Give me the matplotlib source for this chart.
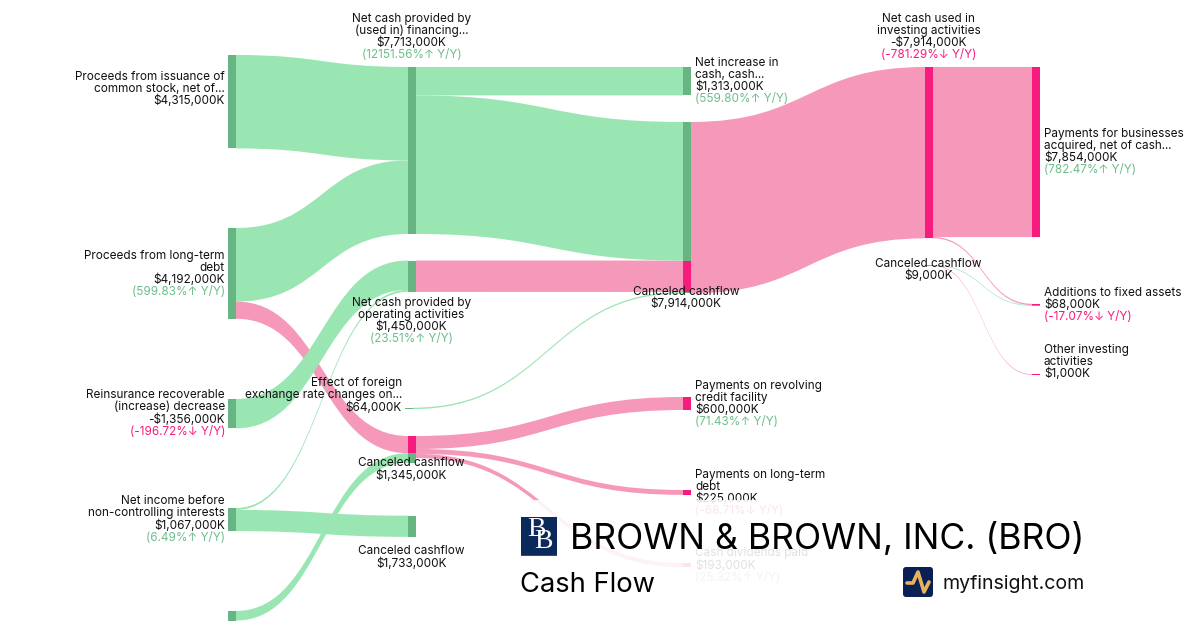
"""Cash flow sankey for BRO, drawn by hand with bezier patches."""
import matplotlib
matplotlib.use("Agg")
import matplotlib.pyplot as plt
from matplotlib.patches import PathPatch, Rectangle, FancyBboxPatch
from matplotlib.path import Path

plt.rcParams["font.family"] = ["Inter", "DejaVu Sans"]

# values in $K
link_source = ["issuance", "ltd", "ltd", "reinsurance", "income", "income", "other_in", "financing", "financing",
               "operating", "foreign", "cancel_7914", "investing", "investing", "cancel_9", "cancel_9",
               "cancel_1345", "cancel_1345", "cancel_1345"]
link_target = ["financing", "financing", "cancel_1345", "operating", "operating", "cancel_1733", "cancel_1345",
               "net_increase", "cancel_7914", "cancel_7914", "cancel_7914", "investing", "payments_biz",
               "additions", "additions", "other_inv", "revolver", "lt_debt", "dividends"]
link_value = [4315000, 3398000, 794000, 1356000, 90000, 977000, 440000, 1313000, 6400000,
              1450000, 64000, 7914000, 7854000, 60000, 8000, 1000, 600000, 225000, 193000]
link_kind = ["in", "in", "out", "in", "in", "in", "in", "in", "in",
             "out", "in", "out", "out", "out", "in", "out", "out", "out", "out"]

node_names = ["issuance", "ltd", "reinsurance", "income", "other_in", "financing", "operating", "foreign",
              "cancel_1345", "cancel_1733", "net_increase", "cancel_7914", "revolver", "lt_debt", "dividends",
              "investing", "cancel_9", "payments_biz", "additions", "other_inv"]

label_lines = {
    "issuance": ["Proceeds from issuance of", "common stock, net of...", "$4,315,000K"],
    "ltd": ["Proceeds from long-term", "debt", "$4,192,000K", "(599.83%↑ Y/Y)"],
    "reinsurance": ["Reinsurance recoverable", "(increase) decrease", "-$1,356,000K", "(-196.72%↓ Y/Y)"],
    "income": ["Net income before", "non-controlling interests", "$1,067,000K", "(6.49%↑ Y/Y)"],
    "financing": ["Net cash provided by", "(used in) financing...", "$7,713,000K", "(12151.56%↑ Y/Y)"],
    "operating": ["Net cash provided by", "operating activities", "$1,450,000K", "(23.51%↑ Y/Y)"],
    "foreign": ["Effect of foreign", "exchange rate changes on...", "$64,000K"],
    "cancel_1345": ["Canceled cashflow", "$1,345,000K"],
    "cancel_1733": ["Canceled cashflow", "$1,733,000K"],
    "net_increase": ["Net increase in", "cash, cash...", "$1,313,000K", "(559.80%↑ Y/Y)"],
    "cancel_7914": ["Canceled cashflow", "$7,914,000K"],
    "revolver": ["Payments on revolving", "credit facility", "$600,000K", "(71.43%↑ Y/Y)"],
    "lt_debt": ["Payments on long-term", "debt", "$225,000K", "(-68.71%↓ Y/Y)"],
    "dividends": ["Cash dividends paid", "$193,000K", "(25.32%↑ Y/Y)"],
    "investing": ["Net cash used in", "investing activities", "-$7,914,000K", "(-781.29%↓ Y/Y)"],
    "cancel_9": ["Canceled cashflow", "$9,000K"],
    "payments_biz": ["Payments for businesses", "acquired, net of cash...", "$7,854,000K", "(782.47%↑ Y/Y)"],
    "additions": ["Additions to fixed assets", "$68,000K", "(-17.07%↓ Y/Y)"],
    "other_inv": ["Other investing", "activities", "$1,000K"],
}

title = "BROWN & BROWN, INC. (BRO)"
subtitle = "Cash Flow"
site = "myfinsight.com"

# layout, all in pixels of the 1200x630 canvas
PX_PER_K = 7713000 ** -1 * 167
NODE_W = 8
MIN_LINK = 0.7
node_x = {"issuance": 228, "ltd": 228, "reinsurance": 228, "income": 228, "other_in": 228,
          "financing": 408, "operating": 408, "foreign": 405, "cancel_1345": 408, "cancel_1733": 408,
          "net_increase": 683, "cancel_7914": 683, "revolver": 683, "lt_debt": 683, "dividends": 683,
          "investing": 925, "cancel_9": 925, "payments_biz": 1032, "additions": 1032, "other_inv": 1032}
node_top = {"issuance": 55, "ltd": 228, "reinsurance": 399, "income": 508, "other_in": 611,
            "financing": 67, "operating": 260.5, "foreign": 407.7, "cancel_1345": 436, "cancel_1733": 515.7,
            "net_increase": 67, "cancel_7914": 122, "revolver": 397, "lt_debt": 490, "dividends": 563,
            "investing": 67, "cancel_9": 265, "payments_biz": 67, "additions": 303.8, "other_inv": 374.2}
# label anchor: x, alignment, centre of the first line
label_pos = {"issuance": (225, "right", 76), "ltd": (225, "right", 255), "reinsurance": (225, "right", 394.7),
             "income": (225, "right", 500.7), "financing": (411.5, "center", 18), "operating": (411.5, "center", 302),
             "foreign": (402, "right", 382.7), "cancel_1345": (411.5, "center", 462.7),
             "cancel_1733": (411.5, "center", 550.7), "net_increase": (695, "left", 62),
             "cancel_7914": (686, "center", 291), "revolver": (695, "left", 385), "lt_debt": (695, "left", 474),
             "dividends": (695, "left", 552.7), "investing": (928.5, "center", 18),
             "cancel_9": (928.5, "center", 263), "payments_biz": (1044, "left", 133),
             "additions": (1044, "left", 292), "other_inv": (1044, "left", 349)}

GREEN_LINK, GREEN_NODE, GREEN_TEXT = "#99E6B3", "#66B582", "#6DBD8B"
PINK_LINK, PINK_NODE, PINK_TEXT = "#F598BA", "#F81B7E", "#F81B7E"
NAVY = "#0B2A5B"


def link_width(value):
    return max(value * PX_PER_K, MIN_LINK)


def link_path(x0, y0, x1, y1, w):
    mid = (x0 + x1) / 2
    verts = [(x0, y0), (mid, y0), (mid, y1), (x1, y1),
             (x1, y1 + w), (mid, y1 + w), (mid, y0 + w), (x0, y0 + w), (x0, y0)]
    codes = [Path.MOVETO, Path.CURVE4, Path.CURVE4, Path.CURVE4,
             Path.LINETO, Path.CURVE4, Path.CURVE4, Path.CURVE4, Path.CLOSEPOLY]
    return Path(verts, codes)


fig = plt.figure(figsize=(12, 6.3), dpi=100)
ax = fig.add_axes([0, 0, 1, 1])
ax.set_xlim(0, 1200)
ax.set_ylim(630, 0)
ax.axis("off")

# stack the links on both ends of each node, in list order
out_used = {name: 0.0 for name in node_names}
in_used = {name: 0.0 for name in node_names}
links = []
for src, dst, value, kind in zip(link_source, link_target, link_value, link_kind):
    w = link_width(value)
    links.append((src, dst, kind, node_top[src] + out_used[src], node_top[dst] + in_used[dst], w))
    out_used[src] += value * PX_PER_K
    in_used[dst] += value * PX_PER_K

# pink first, green crosses above it
for wanted in ("out", "in"):
    for src, dst, kind, y0, y1, w in links:
        if kind != wanted:
            continue
        colour = GREEN_LINK if kind == "in" else PINK_LINK
        x0 = node_x[src] + NODE_W
        ax.add_patch(PathPatch(link_path(x0, y0, node_x[dst], y1, w), fc=colour, ec="none", zorder=2))

# nodes: coloured piece by piece from the links that arrive, source nodes stay green
for name in node_names:
    x = node_x[name]
    incoming = [l for l in links if l[1] == name]
    if incoming:
        for src, dst, kind, y0, y1, w in incoming:
            colour = GREEN_NODE if kind == "in" else PINK_NODE
            ax.add_patch(Rectangle((x, y1), NODE_W, w, fc=colour, ec="none", zorder=3))
    else:
        h = max(out_used[name], MIN_LINK)
        ax.add_patch(Rectangle((x, node_top[name]), NODE_W, h, fc=GREEN_NODE, ec="none", zorder=3))

for name, lines in label_lines.items():
    x, ha, y = label_pos[name]
    for i, line in enumerate(lines):
        colour = "#111111"
        if line.startswith("(") and "Y/Y" in line:
            colour = GREEN_TEXT if "↑" in line else PINK_TEXT
        ax.text(x, y + 0.7 + i * 12.05, line, ha=ha, va="center", fontsize=8.47, color=colour, zorder=4)

# white veil under the title block
ax.add_patch(Rectangle((500, 499.5), 700, 131, fc="white", ec="none", alpha=0.88, zorder=5))

# company logo
ax.add_patch(Rectangle((521, 517), 36, 39, fc=NAVY, ec="none", zorder=6))
ax.add_patch(Rectangle((521, 554.5), 36, 1.8, fc="#C8102E", ec="none", zorder=7))
ax.text(536, 530, "B", ha="center", va="center", fontsize=20, color="white", family="Liberation Serif", zorder=7)
ax.text(543.5, 541, "B", ha="center", va="center", fontsize=20, color="white", family="Liberation Serif", zorder=7)

ax.text(569.5, 539, title, ha="left", va="center", fontsize=25.55, color="black", zorder=7)
ax.text(519.5, 585.5, subtitle, ha="left", va="center", fontsize=19.7, color="black", zorder=7)
ax.text(942, 584, site, ha="left", va="center", fontsize=14.1, color="#111111", zorder=7)

# myfinsight mark
ax.add_patch(FancyBboxPatch((903, 567), 30, 30, boxstyle="round,pad=0,rounding_size=3", fc="#0A1F55", ec="none",
                            zorder=6))
ax.plot([907, 913, 918, 924, 929], [583, 583, 572, 592, 582], color="#E8B45A", lw=2.6, solid_capstyle="round",
        solid_joinstyle="round", zorder=7)

fig.savefig("out.png", dpi=100, facecolor="white")
